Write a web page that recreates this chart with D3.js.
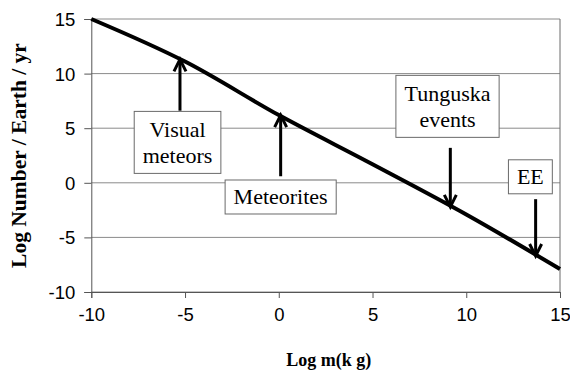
<!DOCTYPE html>
<html>
<head>
<meta charset="utf-8">
<script src="https://cdn.jsdelivr.net/npm/d3@7"></script>
<style>
  body { margin: 0; background: #fff; }
  svg { display: block; }
</style>
</head>
<body>
<div id="chart"></div>
<script>
// log mass (kg) vs log number hitting earth per year
const massLog = [-10, -5, 0, 5, 10, 15];
const numberLog = [15, 11.1, 6.2, 1.7, -2.9, -7.9];

const xTicks = [-10, -5, 0, 5, 10, 15];
const yTicks = [-10, -5, 0, 5, 10, 15];

// annotations: text lines, arrow x, arrow tail y, arrow tip y, box centre
const annLines = [["Visual", "meteors"], ["Meteorites"], ["Tunguska", "events"], ["EE"]];
const annArrowX = [-5.27, 0.1, 9.15, 13.7];
const annTailY = [6.6, 0.6, 3.2, -1.5];
const annTipY = [11.3, 6.2, -2.2, -6.7];
const annBoxX = [-5.4, 0.1, 9.0, 13.42];
const annBoxY = [3.7, -1.3, 7.0, 0.55];

const width = 570, height = 373;
const margin = { top: 19, right: 10, bottom: 81, left: 91.3 };

const svg = d3.select("#chart").append("svg")
  .attr("width", width)
  .attr("height", height);

const x = d3.scaleLinear().domain([-10, 15]).range([margin.left, width - margin.right]);
const y = d3.scaleLinear().domain([-10, 15]).range([height - margin.bottom, margin.top]);

// gridlines
svg.append("g")
  .selectAll("line")
  .data(yTicks)
  .join("line")
  .attr("x1", x(-10))
  .attr("x2", x(15))
  .attr("y1", d => y(d))
  .attr("y2", d => y(d))
  .attr("stroke", "#8a8a8a")
  .attr("stroke-width", 1);

// right border
svg.append("line")
  .attr("x1", x(15)).attr("x2", x(15))
  .attr("y1", y(15)).attr("y2", y(-10))
  .attr("stroke", "#6a6a6a");

// axes (plain hyphen for negatives, like the original)
const fmt = d => String(d);

const xAxis = svg.append("g")
  .attr("transform", `translate(0, ${y(-10)})`)
  .call(d3.axisBottom(x).tickValues(xTicks).tickSize(6).tickPadding(10).tickFormat(fmt));

const yAxis = svg.append("g")
  .attr("transform", `translate(${x(-10)}, 0)`)
  .call(d3.axisLeft(y).tickValues(yTicks).tickSize(7).tickPadding(9).tickFormat(fmt));

[xAxis, yAxis].forEach(a => {
  a.select(".domain").attr("stroke", "#555");
  a.selectAll(".tick line").attr("stroke", "#555");
  a.selectAll("text")
    .attr("font-family", "Liberation Sans, Arial, sans-serif")
    .attr("font-size", "18.5px")
    .attr("fill", "#000");
});
yAxis.selectAll("text").attr("dy", "0.35em");

// main line
const line = d3.line()
  .x((d, i) => x(massLog[i]))
  .y(d => y(d))
  .curve(d3.curveMonotoneX);

svg.append("path")
  .datum(numberLog)
  .attr("d", line)
  .attr("fill", "none")
  .attr("stroke", "#000")
  .attr("stroke-width", 4)
  .attr("stroke-linejoin", "round");

// annotations
const serif = "Liberation Serif, Times New Roman, serif";
const lineH = 26;

annLines.forEach((lines, i) => {
  const ax = x(annArrowX[i]);
  const tail = y(annTailY[i]);
  const tip = y(annTipY[i]);
  const dir = tip < tail ? 1 : -1; // 1 = arrow pointing up

  const g = svg.append("g");
  g.append("line")
    .attr("x1", ax).attr("x2", ax)
    .attr("y1", tail).attr("y2", tip + dir * 1)
    .attr("stroke", "#000")
    .attr("stroke-width", 3);
  g.append("path")
    .attr("d", `M${ax - 6},${tip + dir * 12} L${ax},${tip} L${ax + 6},${tip + dir * 12}`)
    .attr("fill", "none")
    .attr("stroke", "#000")
    .attr("stroke-width", 3);

  // box with text
  const cx = x(annBoxX[i]);
  const cy = y(annBoxY[i]);
  const box = svg.append("g");
  const rect = box.append("rect");
  const txt = box.append("text")
    .attr("font-family", serif)
    .attr("font-size", "22px")
    .attr("text-anchor", "middle")
    .attr("fill", "#000");
  lines.forEach((l, j) => {
    txt.append("tspan")
      .attr("x", cx)
      .attr("y", cy + (j - (lines.length - 1) / 2) * lineH)
      .attr("dy", "0.33em")
      .text(l);
  });
  const bb = txt.node().getBBox();
  const w = bb.width + 17;
  const h = lines.length * lineH + (lines.length > 1 ? 10 : 8);
  rect.attr("x", cx - w / 2)
    .attr("y", cy - h / 2)
    .attr("width", w)
    .attr("height", h)
    .attr("fill", "#fff")
    .attr("stroke", "#6a6a6a")
    .attr("stroke-width", 1);
});

// axis titles
svg.append("text")
  .text("Log m(k g)")
  .attr("x", (x(-10) + x(15)) / 2 + 3)
  .attr("y", 366)
  .attr("text-anchor", "middle")
  .attr("font-family", serif)
  .attr("font-weight", "bold")
  .attr("font-size", "18px")
  .attr("fill", "#000");

svg.append("text")
  .text("Log Number / Earth / yr")
  .attr("transform", `translate(26, ${(y(15) + y(-10)) / 2}) rotate(-90)`)
  .attr("text-anchor", "middle")
  .attr("font-family", serif)
  .attr("font-weight", "bold")
  .attr("font-size", "21.5px")
  .attr("fill", "#000");
</script>
</body>
</html>
